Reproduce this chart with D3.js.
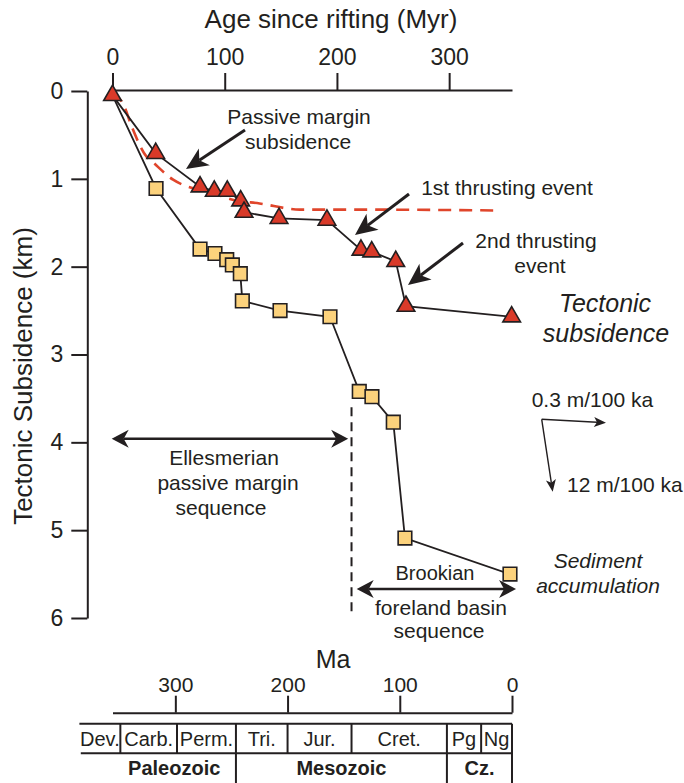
<!DOCTYPE html>
<html>
<head>
<meta charset="utf-8">
<script src="https://cdn.jsdelivr.net/npm/d3@7"></script>
<style>
    body { margin: 0; background: #fff; }
    svg { display: block; font-family: "Liberation Sans", Arial, Helvetica, sans-serif; }
    .axis path, .axis line { stroke: #231f20; stroke-width: 2; }
    .axis text { fill: #231f20; font-family: "Liberation Sans", Arial, Helvetica, sans-serif; }
    .lbl { fill: #231f20; }
</style>
</head>
<body>
<div id="chart"></div>
<script>
// tectonic subsidence (triangles): age since rifting (Myr) and depth (km)
var triAge = [0, 38.5, 78, 90.7, 102.3, 114.2, 117.2, 148.4, 191.1, 221.4, 231, 252.4, 261.5, 355.7];
var triKm  = [0.05, 0.71, 1.09, 1.14, 1.14, 1.25, 1.38, 1.45, 1.47, 1.81, 1.83, 1.94, 2.45, 2.57];

// sediment accumulation (squares)
var sqAge = [0, 38.8, 78, 91.3, 101.8, 106.8, 113.9, 115.7, 149.3, 193.8, 219.9, 231.2, 250.2, 260.6, 354.2];
var sqKm  = [0.05, 1.11, 1.80, 1.85, 1.92, 1.98, 2.08, 2.39, 2.50, 2.57, 3.42, 3.48, 3.77, 5.09, 5.50];

// passive margin subsidence curve (red dashed)
var pmAge = [0, 10, 17, 30.5, 35, 54, 78, 93, 108, 131, 167, 212, 341];
var pmKm  = [0.02, 0.16, 0.40, 0.75, 0.80, 1.01, 1.13, 1.18, 1.24, 1.28, 1.35, 1.35, 1.36];

// axes
var ageTicks = [0, 100, 200, 300];
var kmTicks = [0, 1, 2, 3, 4, 5, 6];
var maTicks = [300, 200, 100, 0];
var riftMa = 356;

// geologic time scale (boundaries in Ma)
var periods = ['Dev.', 'Carb.', 'Perm.', 'Tri.', 'Jur.', 'Cret.', 'Pg', 'Ng'];
var periodBounds = [385.5, 349, 298.5, 246, 200, 143, 58, 27.5, 0];
var eras = ['Paleozoic', 'Mesozoic', 'Cz.'];
var eraBounds = [356, 246, 58, 0];

// sequence boundary (age since rifting)
var boundaryAge = 213;

var width = 684, height = 783;
var ink = '#231f20';

var svg = d3.select('#chart').append('svg')
    .attr('width', width)
    .attr('height', height);

var x = d3.scaleLinear().domain([0, riftMa]).range([112.5, 512]);
var xMa = d3.scaleLinear().domain([riftMa, 0]).range([112.5, 512]);
var y = d3.scaleLinear().domain([0, 6]).range([91, 618]);

// top axis
svg.append('g')
    .attr('class', 'axis')
    .attr('transform', 'translate(0,90)')
    .call(d3.axisTop(x).tickValues(ageTicks).tickSize(17).tickSizeOuter(0).tickPadding(8))
    .selectAll('text').style('font-size', '23px');

svg.append('text').attr('class', 'lbl')
    .attr('x', 331).attr('y', 28)
    .attr('text-anchor', 'middle')
    .style('font-size', '26px')
    .text('Age since rifting (Myr)');

// left axis
svg.append('g')
    .attr('class', 'axis')
    .attr('transform', 'translate(87.3,0)')
    .call(d3.axisLeft(y).tickValues(kmTicks).tickFormat(d3.format('d'))
        .tickSize(16).tickSizeOuter(0).tickPadding(8))
    .selectAll('text').style('font-size', '23px');

svg.append('text').attr('class', 'lbl')
    .attr('transform', 'translate(32,376) rotate(-90)')
    .attr('text-anchor', 'middle')
    .style('font-size', '26px')
    .text('Tectonic Subsidence (km)');

// bottom Ma axis (ticks point up)
svg.append('g')
    .attr('class', 'axis')
    .attr('transform', 'translate(0,712.7)')
    .call(d3.axisTop(xMa).tickValues(maTicks).tickSize(17).tickSizeOuter(0).tickPadding(4))
    .selectAll('text').style('font-size', '21px');

svg.append('text').attr('class', 'lbl')
    .attr('x', 333).attr('y', 668)
    .attr('text-anchor', 'middle')
    .style('font-size', '25px')
    .text('Ma');

// time scale table
var tTop = 723.7, tMid = 753.3, tBot = 783;
var tbl = svg.append('g').attr('stroke', ink).attr('stroke-width', 2);
tbl.append('line').attr('x1', xMa(periodBounds[0])).attr('x2', xMa(0)).attr('y1', tTop).attr('y2', tTop);
tbl.append('line').attr('x1', xMa(periodBounds[0]) + 1.4).attr('x2', xMa(0)).attr('y1', tMid).attr('y2', tMid);
tbl.selectAll('line.pdiv').data(periodBounds.slice(1, -1)).enter()
    .append('line').attr('class', 'pdiv')
    .attr('x1', function(d) { return xMa(d); })
    .attr('x2', function(d) { return xMa(d); })
    .attr('y1', tTop).attr('y2', tMid);
tbl.selectAll('line.ediv').data(eraBounds.slice(1)).enter()
    .append('line').attr('class', 'ediv')
    .attr('x1', function(d) { return xMa(d); })
    .attr('x2', function(d) { return xMa(d); })
    .attr('y1', function(d) { return d == 0 ? tTop : tMid; })
    .attr('y2', tBot);

svg.selectAll('text.period').data(periods).enter()
    .append('text').attr('class', 'period lbl')
    .attr('x', function(d, i) { return (xMa(periodBounds[i]) + xMa(periodBounds[i + 1])) / 2; })
    .attr('y', 746)
    .attr('text-anchor', 'middle')
    .style('font-size', '20px')
    .text(function(d) { return d; });

svg.selectAll('text.era').data(eras).enter()
    .append('text').attr('class', 'era lbl')
    .attr('x', function(d, i) { return (xMa(eraBounds[i]) + xMa(eraBounds[i + 1])) / 2; })
    .attr('y', 775)
    .attr('text-anchor', 'middle')
    .style('font-size', '20px')
    .style('font-weight', 'bold')
    .text(function(d) { return d; });

// arrow helpers
function headPts(fx, fy, tx, ty, len, half, notch) {
    var a = Math.atan2(ty - fy, tx - fx);
    var ux = Math.cos(a), uy = Math.sin(a);
    var px = -uy, py = ux;
    var bx = tx - ux * len, by = ty - uy * len;
    var nx = tx - ux * (len - notch), ny = ty - uy * (len - notch);
    return [[tx, ty], [bx + px * half, by + py * half], [nx, ny], [bx - px * half, by - py * half]];
}

function arrow(fx, fy, tx, ty, opt) {
    var len = opt.len, half = opt.half, notch = opt.notch, sw = opt.sw;
    var a = Math.atan2(ty - fy, tx - fx);
    var ex = tx - Math.cos(a) * (len - notch), ey = ty - Math.sin(a) * (len - notch);
    var sx = fx, sy = fy;
    if (opt.both) {
        sx = fx + Math.cos(a) * (len - notch);
        sy = fy + Math.sin(a) * (len - notch);
    }
    svg.append('line')
        .attr('x1', sx).attr('y1', sy).attr('x2', ex).attr('y2', ey)
        .attr('stroke', ink).attr('stroke-width', sw);
    svg.append('polygon')
        .attr('points', headPts(fx, fy, tx, ty, len, half, notch).join(' '))
        .attr('fill', ink);
    if (opt.both) {
        svg.append('polygon')
            .attr('points', headPts(tx, ty, fx, fy, len, half, notch).join(' '))
            .attr('fill', ink);
    }
}

// passive margin curve, behind the data
var pmLine = d3.line()
    .x(function(d, i) { return x(pmAge[i]); })
    .y(function(d, i) { return y(pmKm[i]); })
    .curve(d3.curveMonotoneX);
svg.append('path')
    .attr('d', pmLine(pmAge))
    .attr('fill', 'none')
    .attr('stroke', '#e0452b')
    .attr('stroke-width', 2.6)
    .attr('stroke-dasharray', '13,8');

// series lines
var triLine = d3.line()
    .x(function(d, i) { return x(triAge[i]); })
    .y(function(d, i) { return y(triKm[i]); });
var sqLine = d3.line()
    .x(function(d, i) { return x(sqAge[i]); })
    .y(function(d, i) { return y(sqKm[i]); });

svg.append('path').attr('d', sqLine(sqAge))
    .attr('fill', 'none').attr('stroke', ink).attr('stroke-width', 1.8);
svg.append('path').attr('d', triLine(triAge))
    .attr('fill', 'none').attr('stroke', ink).attr('stroke-width', 1.8);

// markers
svg.selectAll('path.sq').data(sqAge.slice(1)).enter()
    .append('path').attr('class', 'sq')
    .attr('d', d3.symbol().type(d3.symbolSquare).size(185))
    .attr('transform', function(d, i) { return 'translate(' + x(sqAge[i + 1]) + ',' + y(sqKm[i + 1]) + ')'; })
    .attr('fill', '#fcd27c')
    .attr('stroke', ink)
    .attr('stroke-width', 1.6);

svg.selectAll('path.tri').data(triAge).enter()
    .append('path').attr('class', 'tri')
    .attr('d', d3.symbol().type(d3.symbolTriangle).size(135))
    .attr('transform', function(d, i) { return 'translate(' + x(triAge[i]) + ',' + y(triKm[i]) + ')'; })
    .attr('fill', '#d93a29')
    .attr('stroke', ink)
    .attr('stroke-width', 1.6);

// annotation arrows
var big = {len: 22, half: 10, notch: 6, sw: 3};
arrow(245, 130, 186, 169, big);
arrow(409, 194, 355, 235, big);
arrow(463, 243, 408, 285, big);

var span = {len: 17, half: 9, notch: 5, sw: 2.5, both: true};
arrow(x(0) - 0.8, y(3.96), x(210), y(3.96), span);
arrow(x(217.6), y(5.67), x(359.6), y(5.67), span);

// rate scale arrows
var small = {len: 12, half: 5, notch: 3, sw: 1.4};
arrow(541.7, 419.3, 606, 422.7, small);
arrow(541.7, 419.3, 552.7, 491.7, small);

// sequence boundary
svg.append('line')
    .attr('x1', x(boundaryAge)).attr('x2', x(boundaryAge))
    .attr('y1', y(3.6)).attr('y2', y(5.97))
    .attr('stroke', ink).attr('stroke-width', 2)
    .attr('stroke-dasharray', '9,6');

// text labels
function label(txt, cx, cy, size, opts) {
    opts = opts || {};
    svg.append('text').attr('class', 'lbl')
        .attr('x', cx).attr('y', cy)
        .attr('text-anchor', opts.anchor || 'middle')
        .style('font-size', size + 'px')
        .style('font-style', opts.italic ? 'italic' : 'normal')
        .text(txt);
}

label('Passive margin', 299, 124, 21);
label('subsidence', 298, 149, 21);
label('1st thrusting event', 507, 195, 21);
label('2nd thrusting', 536, 248, 21);
label('event', 540, 273, 21);
label('Tectonic', 605, 312, 25, {italic: true});
label('subsidence', 606, 342, 25, {italic: true});
label('0.3 m/100 ka', 531.7, 406.7, 21, {anchor: 'start'});
label('12 m/100 ka', 567, 492, 21, {anchor: 'start'});
label('Sediment', 598, 568, 21, {italic: true});
label('accumulation', 598, 593, 21, {italic: true});
label('Ellesmerian', 224, 465, 21);
label('passive margin', 228, 490, 21);
label('sequence', 221, 515, 21);
label('Brookian', 435, 580, 20);
label('foreland basin', 441, 615, 21);
label('sequence', 439, 638, 21);
</script>
</body>
</html>
